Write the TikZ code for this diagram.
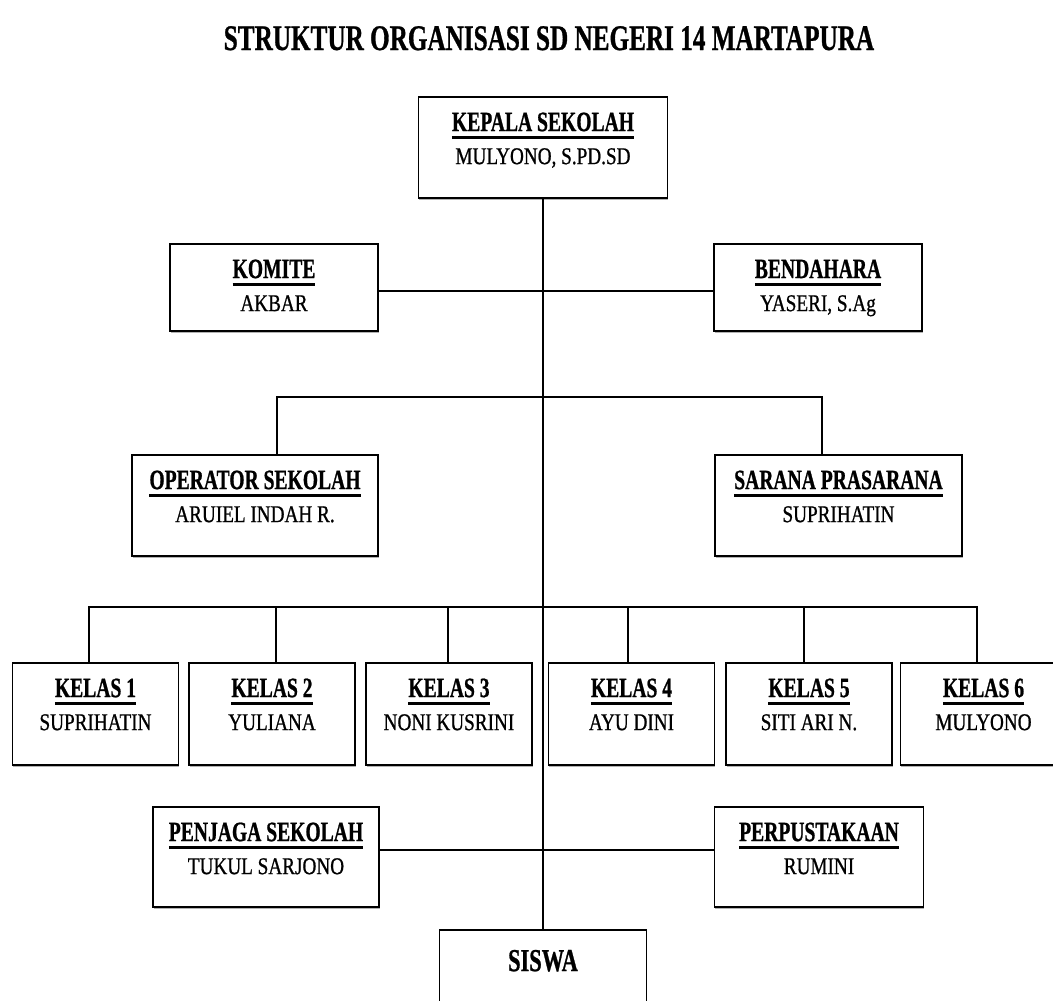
\documentclass[tikz,border=0pt]{standalone}
\usepackage{fontspec}
\setmainfont{Liberation Serif}
\newfontfamily\hdfont[FakeStretch=0.70, FakeBold=0.8]{Liberation Serif}
\newfontfamily\nmfont[FakeStretch=0.80, FakeBold=0.8]{Liberation Serif}
\usetikzlibrary{shadows}
\newcommand\ulbar[1]{\setbox0\hbox{#1}\rlap{\copy0}\rule[-7.5pt]{\wd0}{3pt}}
\tikzset{
  orgbox/.style={draw, line width=1.8pt, fill=white, inner sep=0pt,
    drop shadow={shadow xshift=0.8pt, shadow yshift=-2pt, fill=black!60}},
  headtxt/.style={anchor=base, inner sep=0pt, font=\hdfont\bfseries\fontsize{28}{30}\selectfont},
  nametxt/.style={anchor=base, inner sep=0pt, font=\nmfont\fontsize{24}{26}\selectfont},
  link/.style={line width=1.6pt}
}
\newcommand\unitbox[7]{%
  \node[orgbox, minimum width=#4pt, minimum height=#5pt] (#1) at (#2,#3) {};
  \node[headtxt] (#1-h) at ([yshift=-35pt]#1.north) {\ulbar{#6}};
  \node[nametxt] (#1-n) at ([yshift=-68pt]#1.north) {#7};}
\begin{document}
\begin{tikzpicture}[x=1pt, y=-1pt]
\useasboundingbox (0,0) rectangle (1053,1001);
\fill[white] (0,0) rectangle (1053,1001);
\clip (0,0) rectangle (1053,1001);

\node[anchor=base, inner sep=0pt, font=\hdfont\bfseries\fontsize{36}{40}\selectfont] (title) at (549,50) {STRUKTUR ORGANISASI SD NEGERI 14 MARTAPURA};

\unitbox{kepala}{543}{147.5}{249}{101}{KEPALA SEKOLAH}{MULYONO, S.PD.SD}
\unitbox{komite}{274}{287.5}{208}{87}{KOMITE}{AKBAR}
\unitbox{bendahara}{818}{287.5}{208}{87}{BENDAHARA}{YASERI, S.Ag}
\unitbox{operator}{255}{505.5}{246}{101}{OPERATOR SEKOLAH}{ARUIEL INDAH R.}
\unitbox{sarana}{838.5}{505.5}{247}{101}{SARANA PRASARANA}{SUPRIHATIN}
\unitbox{k1}{95.5}{714}{166}{102}{KELAS 1}{SUPRIHATIN}
\unitbox{k2}{272}{714}{166}{102}{KELAS 2}{YULIANA}
\unitbox{k3}{449}{714}{166}{102}{KELAS 3}{NONI KUSRINI}
\unitbox{k4}{631.5}{714}{166}{102}{KELAS 4}{AYU DINI}
\unitbox{k5}{809}{714}{166}{102}{KELAS 5}{SITI ARI N.}
\unitbox{k6}{983.5}{714}{166}{102}{KELAS 6}{MULYONO}
\unitbox{penjaga}{266}{857}{226}{100}{PENJAGA SEKOLAH}{TUKUL SARJONO}
\unitbox{perpus}{819}{857}{209}{100}{PERPUSTAKAAN}{RUMINI}

\node[orgbox, minimum width=207pt, minimum height=100pt] (siswa) at (543,980) {};
\node[headtxt, font=\hdfont\bfseries\fontsize{32}{34}\selectfont] (siswa-h) at ([yshift=-42pt]siswa.north) {SISWA};

\coordinate (bar1) at (543,397);
\coordinate (bar2) at (543,607);

\draw[link] (kepala.south) -- (siswa.north);
\draw[link] ([yshift=-3.5pt]komite.east) -- ([yshift=-3.5pt]bendahara.west);
\draw[link] ([xshift=22pt]operator.north) |- (bar1) -| ([xshift=-16.5pt]sarana.north);
\draw[link] ([xshift=-6.5pt]k1.north) |- (bar2) -| ([xshift=-6.5pt]k6.north);
\draw[link] ([xshift=4pt]k2.north) |- (bar2);
\draw[link] ([xshift=-1pt]k3.north) |- (bar2);
\draw[link] ([xshift=-3.5pt]k4.north) |- (bar2);
\draw[link] ([xshift=-5pt]k5.north) |- (bar2);
\draw[link] ([yshift=7pt]penjaga.east) -- ([yshift=7pt]perpus.west);
\end{tikzpicture}
\end{document}
